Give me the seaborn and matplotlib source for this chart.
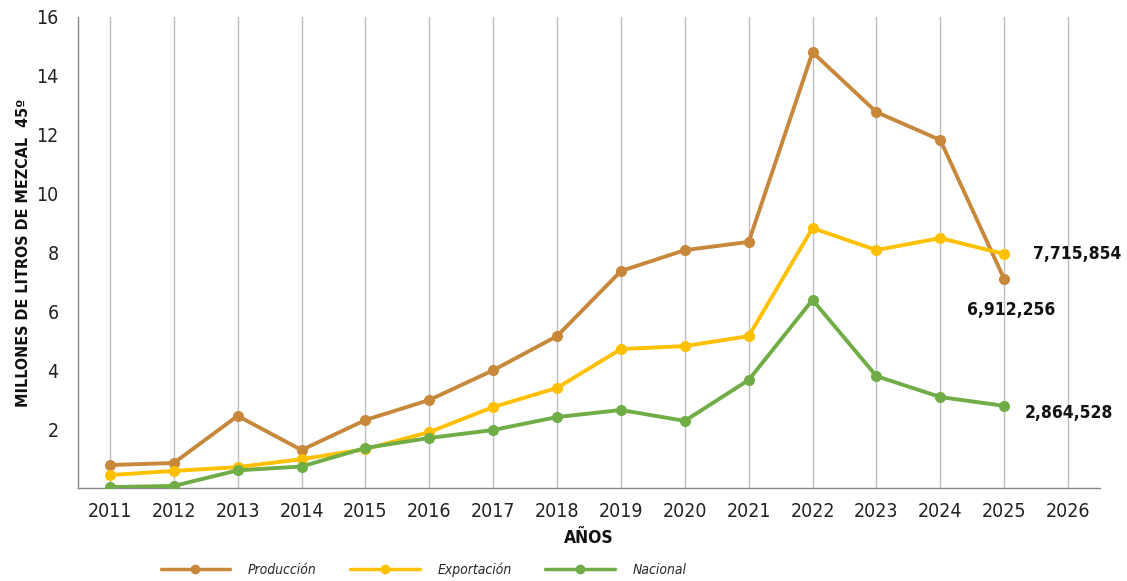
import matplotlib
matplotlib.use("Agg")
import matplotlib.pyplot as plt
import seaborn as sns
import pandas as pd
import numpy as np

years = [2011, 2012, 2013, 2014, 2015, 2016, 2017, 2018, 2019, 2020, 2021, 2022, 2023, 2024, 2025]
all_years = years + [2026]
produccion = [0.78, 0.85, 2.45, 1.29, 2.31, 2.99, 4.00, 5.16, 7.37, 8.08, 8.36, 14.80, 12.77, 11.82, 7.10]
exportacion = [0.44, 0.58, 0.71, 0.98, 1.32, 1.90, 2.75, 3.40, 4.72, 4.82, 5.16, 8.83, 8.08, 8.49, 7.95]
nacional = [0.03, 0.07, 0.60, 0.73, 1.36, 1.70, 1.97, 2.41, 2.65, 2.28, 3.67, 6.39, 3.80, 3.09, 2.79]
series_names = ["Producción", "Exportación", "Nacional"]
labels_2025 = ["6,912,256", "7,715,854", "2,864,528"]
y_ticks = [0, 2, 4, 6, 8, 10, 12, 14, 16]

colors = {"Producción": "#C8883C", "Exportación": "#FFC000", "Nacional": "#70AD47"}

sns.set_style("white")
plt.rcParams['font.family'] = ['DejaVu Sans']
plt.rcParams['font.stretch'] = 'condensed'

rows = []
for name, vals in zip(series_names, [produccion, exportacion, nacional]):
    for i, v in enumerate(vals):
        rows.append({"pos": i, "valor": v, "serie": name})
df = pd.DataFrame(rows)

fig = plt.figure(figsize=(11.27, 5.81), dpi=100)
ax = fig.add_axes([78/1127, (581-488)/581, (1100-78)/1127, (488-17)/581])

sns.lineplot(data=df, x="pos", y="valor", hue="serie", palette=colors,
             marker="o", markersize=8, markeredgewidth=0, linewidth=2.8,
             ax=ax, legend=True, zorder=3)

ax.set_xlim(-0.5, len(all_years) - 0.5)
ax.set_ylim(0, 16)

for i in range(len(all_years)):
    ax.axvline(i, color="#BDBDBD", linewidth=1.0, zorder=1)

ax.set_xticks(range(len(all_years)))
ax.set_xticklabels([str(y) for y in all_years], fontsize=14, color="#222222")
ax.set_xticks(np.arange(-0.5, len(all_years), 1.0), minor=True)
ax.tick_params(axis="x", which="major", length=0, pad=10)
ax.tick_params(axis="x", which="minor", length=8, width=1, color="#888888", direction="out")

ax.set_yticks(y_ticks)
ax.set_yticklabels(["" if t == 0 else str(t) for t in y_ticks], fontsize=14, color="#222222")
ax.tick_params(axis="y", length=6, width=1, color="#888888", direction="out", pad=8)

for s in ["top", "right"]:
    ax.spines[s].set_visible(False)
for s in ["left", "bottom"]:
    ax.spines[s].set_color("#888888")
    ax.spines[s].set_linewidth(1.0)

ax.set_xlabel("AÑOS", fontsize=12.5, fontweight="bold", labelpad=6, color="#111111")
ax.set_ylabel("MILLONES DE LITROS DE MEZCAL  45º", fontsize=11.5, fontweight="bold",
              labelpad=4, color="#111111")

last = len(years) - 1
ann_kw = dict(textcoords="offset points", fontsize=12.5, fontweight="bold",
              va="center", ha="left", color="#111111")
ax.annotate(labels_2025[1], (last, exportacion[-1]), xytext=(21, 0), **ann_kw)
ax.annotate(labels_2025[0], (last, produccion[-1]), xytext=(-27, -22), **ann_kw)
ax.annotate(labels_2025[2], (last, nacional[-1]), xytext=(15, -5), **ann_kw)

leg = ax.legend(loc="center left", bbox_to_anchor=(70/1022, -82/471), ncol=3, frameon=False,
                handlelength=5, handletextpad=1.3, columnspacing=2.4,
                prop={"style": "italic", "size": 10})
for h in leg.legend_handles:
    h.set_linewidth(2.5)
    h.set_markersize(7)

fig.savefig("out.png", dpi=100)
